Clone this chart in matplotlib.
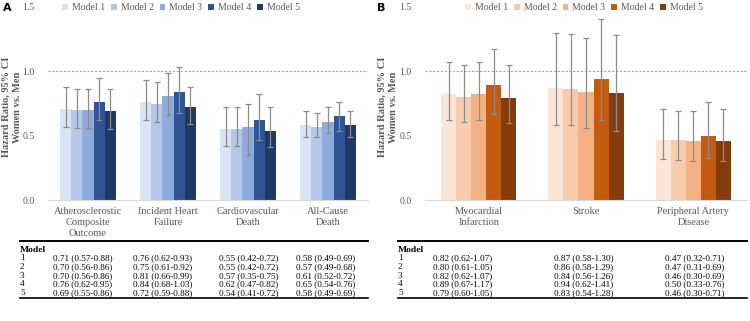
import numpy as np
import matplotlib.pyplot as plt

plt.rcParams['font.family'] = ['Liberation Serif', 'DejaVu Serif']

###################################################################################
#  Data (HR and 95% CI, women vs. men)
###################################################################################
models = ['Model 1', 'Model 2', 'Model 3', 'Model 4', 'Model 5']

cats_a = ['Atherosclerostic\nComposite\nOutcome', 'Incident Heart\nFailure',
          'Cardiovascular\nDeath', 'All-Cause\nDeath']
hr_a = [[0.71, 0.70, 0.70, 0.76, 0.69],
        [0.76, 0.75, 0.81, 0.84, 0.72],
        [0.55, 0.55, 0.57, 0.62, 0.54],
        [0.58, 0.57, 0.61, 0.65, 0.58]]
lo_a = [[0.57, 0.56, 0.56, 0.62, 0.55],
        [0.62, 0.61, 0.66, 0.68, 0.59],
        [0.42, 0.42, 0.35, 0.47, 0.41],
        [0.49, 0.49, 0.52, 0.54, 0.49]]
hi_a = [[0.88, 0.86, 0.86, 0.95, 0.86],
        [0.93, 0.92, 0.99, 1.03, 0.88],
        [0.72, 0.72, 0.75, 0.82, 0.72],
        [0.69, 0.68, 0.72, 0.76, 0.69]]

cats_b = ['Myocardial\nInfarction', 'Stroke', 'Peripheral Artery\nDisease']
hr_b = [[0.82, 0.80, 0.82, 0.89, 0.79],
        [0.87, 0.86, 0.84, 0.94, 0.83],
        [0.47, 0.47, 0.46, 0.50, 0.46]]
lo_b = [[0.62, 0.61, 0.62, 0.67, 0.60],
        [0.58, 0.58, 0.56, 0.62, 0.54],
        [0.32, 0.31, 0.30, 0.33, 0.30]]
hi_b = [[1.07, 1.05, 1.07, 1.17, 1.05],
        [1.30, 1.29, 1.26, 1.41, 1.28],
        [0.71, 0.69, 0.69, 0.76, 0.71]]

blues = ['#dae3f3', '#b4c7e7', '#8faadc', '#2f5597', '#203864']
oranges = ['#fbe5d6', '#f8cbad', '#f4b183', '#c55a11', '#843c0c']

W, H = 750, 321
fig = plt.figure(figsize=(W / 100, H / 100), dpi=100)


def px(x0, y0, x1, y1):
    # pixel box -> figure fraction
    return [x0 / W, 1 - y1 / H, (x1 - x0) / W, (y1 - y0) / H]


def panel(box, cats, hr, lo, hi, colors, label_x, leg_x, letter, letter_x):
    ax = fig.add_axes(px(*box))
    hr = np.array(hr)
    lo = np.array(lo)
    hi = np.array(hi)
    x = np.arange(len(cats))
    bw = 0.14
    for m in range(len(models)):
        xs = x + (m - 2) * bw
        ax.bar(xs, hr[:, m], bw, color=colors[m], label=models[m], zorder=2)
        ax.errorbar(xs, hr[:, m], yerr=[hr[:, m] - lo[:, m], hi[:, m] - hr[:, m]],
                    fmt='none', ecolor='#8c8c8c', elinewidth=0.9, capsize=2.5,
                    capthick=0.9, zorder=3)
    ax.axhline(1.0, color='#a6a6a6', lw=0.8, ls=(0, (2, 1.5)), zorder=1)
    ax.set_xlim(-0.5, len(cats) - 0.5)
    ax.set_ylim(0, 1.5)
    ax.set_yticks([0, 0.5, 1.0, 1.5])
    ax.set_yticklabels(['0.0', '0.5', '1.0', '1.5'])
    ax.set_xticks(x)
    ax.set_xticklabels(cats, linespacing=1.3)
    ax.tick_params(length=0, labelsize=7.5, colors='#595959', pad=5)
    ax.tick_params(axis='y', pad=9.5, labelsize=7)
    for s in ['top', 'right', 'left']:
        ax.spines[s].set_visible(False)
    ax.spines['bottom'].set_color('#d9d9d9')
    ax.legend(loc='center', bbox_to_anchor=(leg_x / W, 1 - 8 / H),
              bbox_transform=fig.transFigure, ncol=5, frameon=False,
              fontsize=7, handlelength=0.6, handleheight=0.6, handletextpad=0.4,
              columnspacing=0.6, labelcolor='#595959', borderpad=0)
    fig.text(label_x / W, 1 - 107 / H, 'Hazard Ratio, 95% CI\nWomen vs. Men',
             rotation=90, ha='center', va='center', fontsize=7.5,
             fontweight='bold', color='#595959', linespacing=1.25)
    fig.text(letter_x / W, 1 - 8 / H, letter, fontsize=8, fontweight='bold',
             family='DejaVu Sans', ha='left', va='center')
    return ax


panel((48, 7, 368, 200), cats_a, hr_a, lo_a, hi_a, blues, 12, 181, 'A', 3)
panel((425, 7, 747, 200), cats_b, hr_b, lo_b, hi_b, oranges, 388, 584, 'B', 377)


def table(x0, x1, cols, hr, lo, hi):
    def ln(y, lw):
        fig.add_artist(plt.Line2D([x0 / W, x1 / W], [1 - y / H, 1 - y / H],
                                  color='black', lw=lw))
    ln(241, 1.4)
    fig.text(x0 / W, 1 - 250 / H, 'Model', fontsize=6.8, fontweight='bold',
             va='center', ha='left')
    rows_y = [258.5, 267, 276, 284.5, 293]
    for m in range(len(models)):
        y = 1 - rows_y[m] / H
        fig.text(x0 / W, y, str(m + 1), fontsize=6.6, va='center', ha='left')
        for c, cx in enumerate(cols):
            fig.text(cx / W, y, f'{hr[c][m]:.2f} ({lo[c][m]:.2f}-{hi[c][m]:.2f})',
                     fontsize=6.6, va='center', ha='left')
    ln(297.5, 1.2)


table(20, 368, [53, 133, 219, 296], hr_a, lo_a, hi_a)
table(398, 747, [433, 554, 665], hr_b, lo_b, hi_b)

fig.savefig('out.png', dpi=100)
